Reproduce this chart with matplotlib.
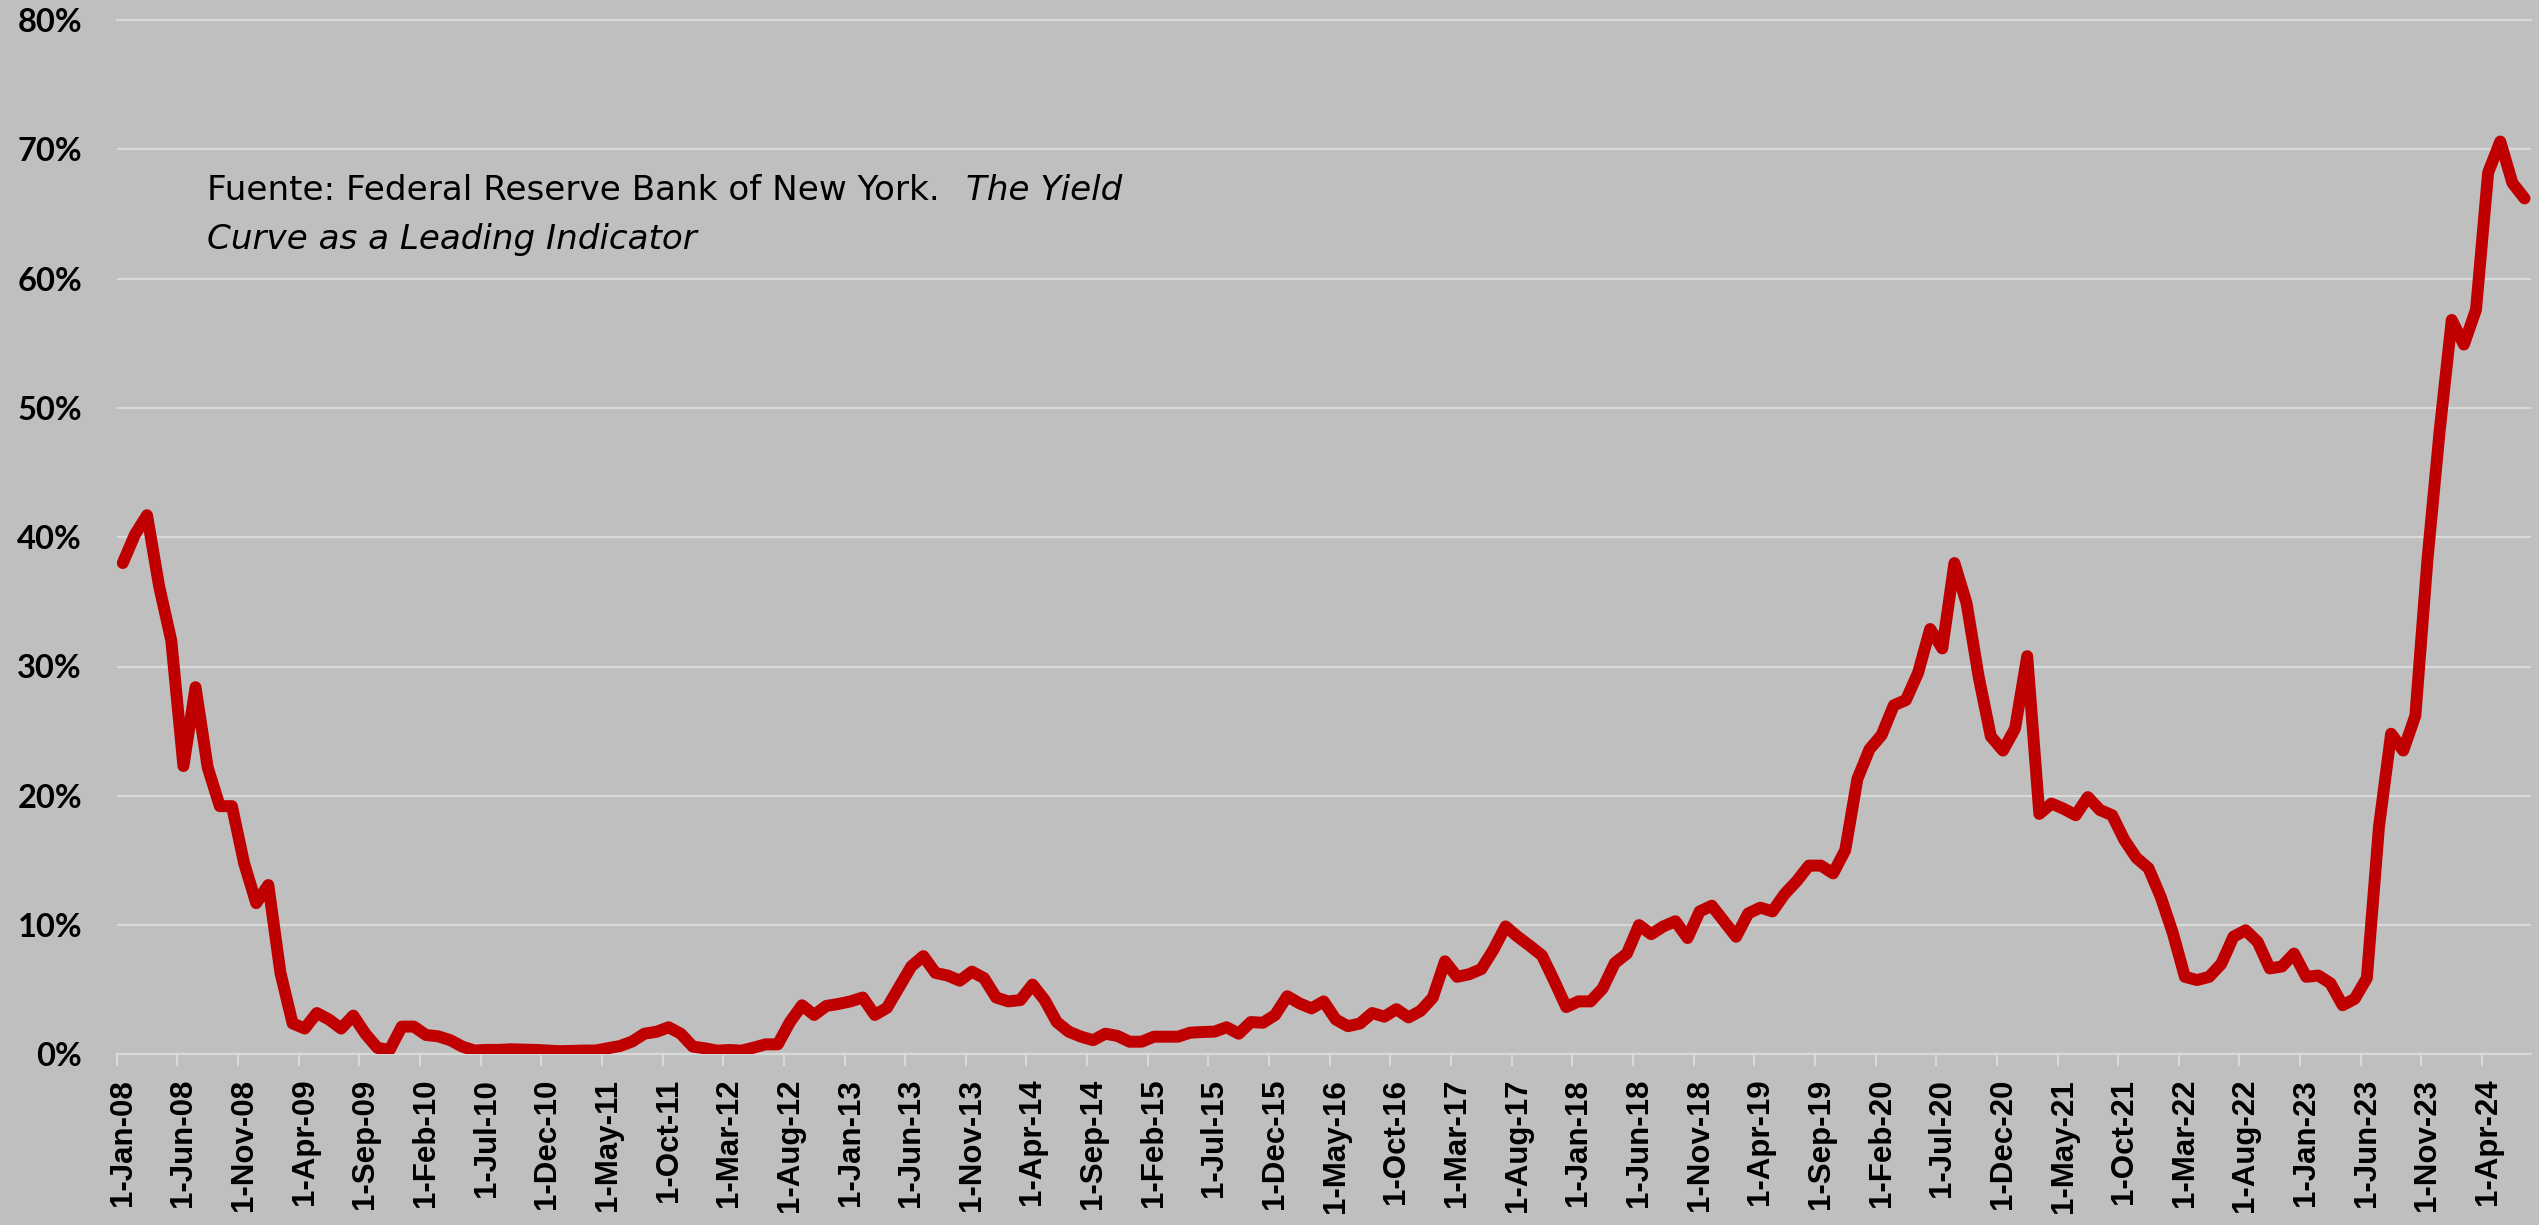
import matplotlib
matplotlib.use('Agg')
import matplotlib.pyplot as plt
import matplotlib.transforms as mtransforms
import numpy as np

# ---------------- data ----------------
first_month = '2008-01'  # monthly series, Jan-2008 .. Jul-2024
recession_prob = [
    38.0, 40.2, 41.7, 36.2, 32.0, 22.3, 28.4, 22.2, 19.2, 19.2,
    14.8, 11.7, 13.1, 6.3, 2.4, 2.0, 3.2, 2.7, 2.0, 3.0,
    1.6, 0.5, 0.35, 2.15, 2.15, 1.5, 1.4, 1.1, 0.6, 0.3,
    0.35, 0.35, 0.4, 0.37, 0.35, 0.3, 0.25, 0.27, 0.3, 0.3,
    0.48, 0.65, 1.0, 1.6, 1.75, 2.1, 1.6, 0.6, 0.47, 0.29,
    0.34, 0.29, 0.52, 0.78, 0.78, 2.5, 3.8, 3.05, 3.75, 3.9,
    4.1, 4.4, 3.05, 3.6, 5.2, 6.8, 7.6, 6.3, 6.1, 5.7,
    6.4, 5.9, 4.4, 4.1, 4.2, 5.4, 4.2, 2.5, 1.75, 1.37,
    1.1, 1.6, 1.43, 0.98, 0.98, 1.37, 1.37, 1.37, 1.68, 1.73,
    1.76, 2.1, 1.6, 2.5, 2.45, 3.05, 4.5, 3.95, 3.56, 4.1,
    2.7, 2.18, 2.39, 3.2, 2.92, 3.5, 2.86, 3.37, 4.4, 7.2,
    6.0, 6.2, 6.6, 8.1, 9.9, 9.1, 8.4, 7.65, 5.7, 3.66,
    4.1, 4.1, 5.1, 7.06, 7.8, 10.0, 9.3, 9.9, 10.3, 9.0,
    11.06, 11.5, 10.3, 9.1, 10.9, 11.35, 11.06, 12.4, 13.4, 14.6,
    14.6, 14.0, 15.8, 21.3, 23.6, 24.7, 27.0, 27.4, 29.5, 32.9,
    31.4, 38.0, 34.9, 29.2, 24.6, 23.5, 25.2, 30.8, 18.6, 19.4,
    19.0, 18.5, 19.9, 18.9, 18.5, 16.6, 15.2, 14.4, 12.2, 9.4,
    6.0, 5.75, 6.0, 7.0, 9.1, 9.6, 8.7, 6.65, 6.8, 7.8,
    6.0, 6.1, 5.5, 3.8, 4.3, 5.9, 17.6, 24.8, 23.5, 26.2,
    38.3, 48.2, 56.8, 54.9, 57.6, 68.2, 70.6, 67.4, 66.2,
]

x_tick_labels = [
    '1-Jan-08', '1-Jun-08', '1-Nov-08', '1-Apr-09', '1-Sep-09', '1-Feb-10',
    '1-Jul-10', '1-Dec-10', '1-May-11', '1-Oct-11', '1-Mar-12', '1-Aug-12',
    '1-Jan-13', '1-Jun-13', '1-Nov-13', '1-Apr-14', '1-Sep-14', '1-Feb-15',
    '1-Jul-15', '1-Dec-15', '1-May-16', '1-Oct-16', '1-Mar-17', '1-Aug-17',
    '1-Jan-18', '1-Jun-18', '1-Nov-18', '1-Apr-19', '1-Sep-19', '1-Feb-20',
    '1-Jul-20', '1-Dec-20', '1-May-21', '1-Oct-21', '1-Mar-22', '1-Aug-22',
    '1-Jan-23', '1-Jun-23', '1-Nov-23', '1-Apr-24',
]
x_tick_step = 5  # one label every 5 months
y_ticks = [0, 10, 20, 30, 40, 50, 60, 70, 80]
y_tick_labels = ['0%', '10%', '20%', '30%', '40%', '50%', '60%', '70%', '80%']

source_regular = 'Fuente: Federal Reserve Bank of New York.'
source_italic_line1 = 'The Yield'
source_italic_line2 = 'Curve as a Leading Indicator'

# ---------------- styling ----------------
W, H, DPI = 2539, 1225, 100
BG = '#BFBFBF'
GRID = '#D9D9D9'
RED = '#C00000'

fig = plt.figure(figsize=(W / DPI, H / DPI), dpi=DPI, facecolor=BG)
ax_left, ax_right, ax_top, ax_bottom = 116.7, 2530.6, 20.0, 1054.4
ax = fig.add_axes([ax_left / W, 1 - ax_bottom / H,
                   (ax_right - ax_left) / W, (ax_bottom - ax_top) / H])
ax.set_facecolor(BG)

x = np.arange(len(recession_prob))
ax.plot(x, recession_prob, color=RED, lw=8.6,
        solid_joinstyle='round', solid_capstyle='round', zorder=3)

ax.set_xlim(-0.5, len(recession_prob) - 0.5)
ax.set_ylim(y_ticks[0], y_ticks[-1])

# y axis
ax.set_yticks(y_ticks)
ax.set_yticklabels(y_tick_labels, fontfamily='Lato', fontweight='bold',
                   fontsize=23.5, color='black')
ax.tick_params(axis='y', length=0, pad=25)
ax.yaxis.grid(True, color=GRID, lw=1.6, zorder=1)
ax.set_axisbelow(True)

# x axis
tick_pos = np.arange(0, len(x_tick_labels) * x_tick_step, x_tick_step) - 0.5
ax.set_xticks(tick_pos)
ax.set_xticklabels(x_tick_labels, rotation=90, fontfamily='Liberation Sans',
                   fontweight='bold', fontsize=22.5, color='black',
                   ha='center', va='top')
ax.tick_params(axis='x', direction='out', length=8.6, width=1.5,
               color=GRID, pad=9)
offset = mtransforms.ScaledTranslation(6 / DPI, 0, fig.dpi_scale_trans)
for lab in ax.get_xticklabels():
    lab.set_transform(lab.get_transform() + offset)

for side in ['left', 'right']:
    ax.spines[side].set_visible(False)
for side in ['top', 'bottom']:
    ax.spines[side].set_color(GRID)
    ax.spines[side].set_linewidth(1.6)

# source note
FS = 24.6
t1 = fig.text(207 / W, 1 - 200 / H, source_regular, fontfamily='DejaVu Sans',
              fontsize=FS, color='black', va='baseline', ha='left')
fig.canvas.draw()
renderer = fig.canvas.get_renderer()
bb = t1.get_window_extent(renderer)
fig.text((bb.x1 + 26) / W, 1 - 200 / H, source_italic_line1,
         fontfamily='DejaVu Sans', fontstyle='italic', fontsize=FS,
         color='black', va='baseline', ha='left')
fig.text(207 / W, 1 - 249 / H, source_italic_line2, fontfamily='DejaVu Sans',
         fontstyle='italic', fontsize=FS, color='black', va='baseline', ha='left')

fig.savefig('out.png', dpi=DPI, facecolor=BG)
